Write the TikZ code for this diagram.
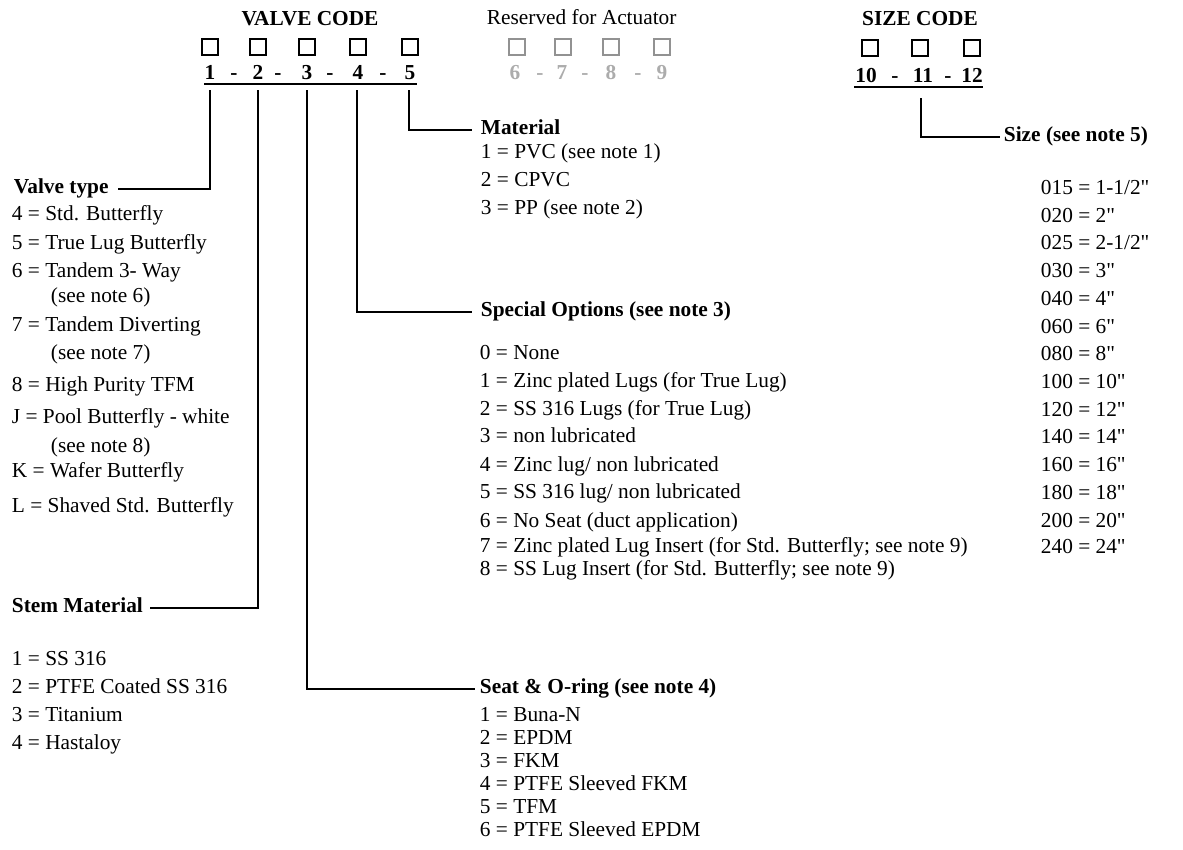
\documentclass[tikz,border=0pt]{standalone}
\usepackage{fontspec}
\setmainfont{Liberation Serif}[Ligatures=TeXOff]
\definecolor{actgray}{RGB}{172,172,172}
\newcommand{\inch}{"}
\tikzset{every picture/.style={line width=1.4pt}}
\tikzset{
  lbl/.style={anchor=west, inner sep=0pt, text height=10pt, text depth=3pt, font=\fontsize{16}{18}\selectfont},
  hdr/.style={anchor=west, inner sep=0pt, text height=10pt, text depth=3pt, font=\fontsize{16}{18}\selectfont\bfseries},
  code/.style={anchor=base, inner sep=0pt, font=\fontsize{16}{18}\selectfont\bfseries},
  slot/.style={draw, line width=1.1pt, minimum size=12.3pt, inner sep=0pt},
  resv/.style={slot, draw=actgray!85!black},
}

\begin{document}
\begin{tikzpicture}[x=0.75pt,y=0.75pt,yscale=-1,xscale=1]
	\useasboundingbox (0,0) rectangle (1183,850);

	% Text Node
	\node[code] (valvecode) at (310,25) {VALVE CODE};
	% Text Node
	\node[lbl] (reserved) at (486,20) {Reserved for Actuator};
	% Text Node
	\node[code] (sizecode) at (920,25) {SIZE CODE};

	%Shape: Square
	\node[slot] (s1) at (210,47) {};
	\node[slot] (s2) at (258,47) {};
	\node[slot] (s3) at (307,47) {};
	\node[slot] (s4) at (358,47) {};
	\node[slot] (s5) at (410,47) {};
	\node[resv] (s6) at (517,47) {};
	\node[resv] (s7) at (563,47) {};
	\node[resv] (s8) at (611,47) {};
	\node[resv] (s9) at (662,47) {};
	\node[slot] (s10) at (870,48) {};
	\node[slot] (s11) at (920,48) {};
	\node[slot] (s12) at (972,48) {};

	% Text Node
	\node[code] (d1) at (210,79) {1};
	\node[code] (m1) at (234,79) {-};
	\node[code] (d2) at (258,79) {2};
	\node[code] (m2) at (278,79) {-};
	\node[code] (d3) at (307,79) {3};
	\node[code] (m3) at (330,79) {-};
	\node[code] (d4) at (358,79) {4};
	\node[code] (m4) at (383,79) {-};
	\node[code] (d5) at (410,79) {5};
	% Text Node
	\node[code, actgray] (d6) at (515,79) {6};
	\node[code, actgray] (m6) at (540,79) {-};
	\node[code, actgray] (d7) at (562,79) {7};
	\node[code, actgray] (m7) at (585,79) {-};
	\node[code, actgray] (d8) at (611,79) {8};
	\node[code, actgray] (m8) at (638,79) {-};
	\node[code, actgray] (d9) at (662,79) {9};
	% Text Node
	\node[code] (d10) at (866,82) {10};
	\node[code] (m10) at (895,82) {-};
	\node[code] (d11) at (923,82) {11};
	\node[code] (m11) at (948,82) {-};
	\node[code] (d12) at (972,82) {12};

	%Straight Lines
	\draw (204,84) -- (417,84) ;
	\draw (854,87) -- (983,87) ;

	% Text Node
	\node[hdr] (vtype) at (13,189) {Valve type};
	\node[lbl] (v4) at (11,216) {4 = Std. Butterfly};
	\node[lbl] (v5) at (11,245) {5 = True Lug Butterfly};
	\node[lbl] (v6) at (11,273) {6 = Tandem 3- Way};
	\node[lbl] (v6n) at (50,298) {(see note 6)};
	\node[lbl] (v7) at (11,327) {7 = Tandem Diverting};
	\node[lbl] (v7n) at (50,355) {(see note 7)};
	\node[lbl] (v8) at (11,387) {8 = High Purity TFM};
	\node[lbl] (vj) at (11,419) {J = Pool Butterfly - white};
	\node[lbl] (vjn) at (50,448) {(see note 8)};
	\node[lbl] (vk) at (11,473) {K = Wafer Butterfly};
	\node[lbl] (vl) at (11,508) {L = Shaved Std. Butterfly};

	% Text Node
	\node[hdr] (stem) at (11,608) {Stem Material};
	\node[lbl] (st1) at (11,661) {1 = SS 316};
	\node[lbl] (st2) at (11,689) {2 = PTFE Coated SS 316};
	\node[lbl] (st3) at (11,717) {3 = Titanium};
	\node[lbl] (st4) at (11,745) {4 = Hastaloy};

	% Text Node
	\node[hdr] (mat) at (480,130) {Material};
	\node[lbl] (mt1) at (480,154) {1 = PVC (see note 1)};
	\node[lbl] (mt2) at (480,182) {2 = CPVC};
	\node[lbl] (mt3) at (480,210) {3 = PP (see note 2)};

	% Text Node
	\node[hdr] (spec) at (480,312) {Special Options (see note 3)};
	\node[lbl] (sp0) at (479,355) {0 = None};
	\node[lbl] (sp1) at (479,383) {1 = Zinc plated Lugs (for True Lug)};
	\node[lbl] (sp2) at (479,411) {2 = SS 316 Lugs (for True Lug)};
	\node[lbl] (sp3) at (479,438) {3 = non lubricated};
	\node[lbl] (sp4) at (479,467) {4 = Zinc lug/ non lubricated};
	\node[lbl] (sp5) at (479,494) {5 = SS 316 lug/ non lubricated};
	\node[lbl] (sp6) at (479,523) {6 = No Seat (duct application)};
	\node[lbl] (sp7) at (479,548) {7 = Zinc plated Lug Insert (for Std. Butterfly; see note 9)};
	\node[lbl] (sp8) at (479,571) {8 = SS Lug Insert (for Std. Butterfly; see note 9)};

	% Text Node
	\node[hdr] (seat) at (479,689) {Seat \& O-ring (see note 4)};
	\node[lbl] (se1) at (479,717) {1 = Buna-N};
	\node[lbl] (se2) at (479,740) {2 = EPDM};
	\node[lbl] (se3) at (479,763) {3 = FKM};
	\node[lbl] (se4) at (479,786) {4 = PTFE Sleeved FKM};
	\node[lbl] (se5) at (479,809) {5 = TFM};
	\node[lbl] (se6) at (479,832) {6 = PTFE Sleeved EPDM};

	% Text Node
	\node[hdr] (size) at (1003,137) {Size (see note 5)};
	\node[lbl] (z015) at (1040,190) {015 = 1-1/2\inch};
	\node[lbl] (z020) at (1040,218) {020 = 2\inch};
	\node[lbl] (z025) at (1040,245) {025 = 2-1/2\inch};
	\node[lbl] (z030) at (1040,273) {030 = 3\inch};
	\node[lbl] (z040) at (1040,301) {040 = 4\inch};
	\node[lbl] (z060) at (1040,329) {060 = 6\inch};
	\node[lbl] (z080) at (1040,356) {080 = 8\inch};
	\node[lbl] (z100) at (1040,384) {100 = 10\inch};
	\node[lbl] (z120) at (1040,412) {120 = 12\inch};
	\node[lbl] (z140) at (1040,439) {140 = 14\inch};
	\node[lbl] (z160) at (1040,467) {160 = 16\inch};
	\node[lbl] (z180) at (1040,495) {180 = 18\inch};
	\node[lbl] (z200) at (1040,523) {200 = 20\inch};
	\node[lbl] (z240) at (1040,549) {240 = 24\inch};

	%Straight Lines
	\coordinate (t1) at (210,90);
	\coordinate (t2) at (258,90);
	\coordinate (t3) at (307,90);
	\coordinate (t4) at (357,90);
	\coordinate (t5) at (409,90);
	\coordinate (t11) at (921,98);
	\draw (t1) |- ([xshift=6.5pt]vtype.east) ;
	\draw (t2) |- ([xshift=5pt]stem.east) ;
	\draw (t3) |- ([xshift=-3pt]seat.west) ;
	\draw (t4) |- ([xshift=-6pt]spec.west) ;
	\draw (t5) |- ([xshift=-6pt]mat.west) ;
	\draw (t11) |- ([xshift=-2pt]size.west) ;

\end{tikzpicture}
\end{document}
